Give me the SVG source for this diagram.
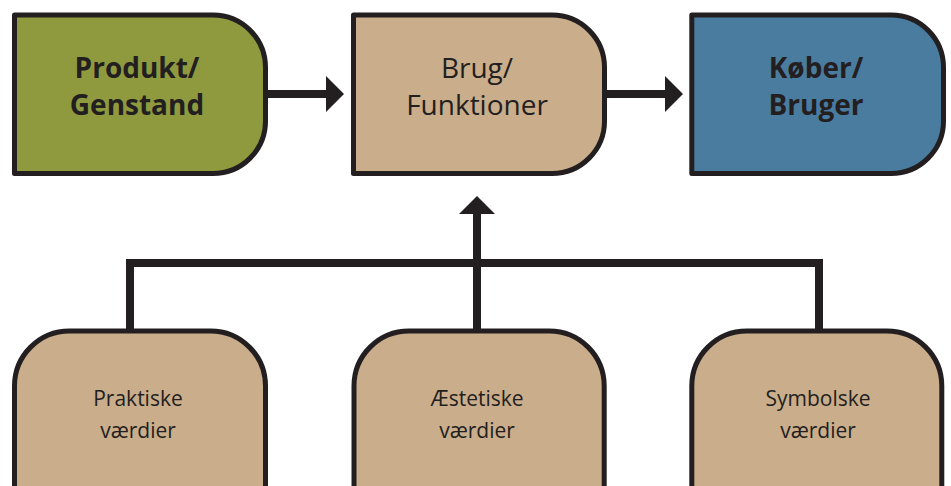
<svg xmlns="http://www.w3.org/2000/svg" width="951" height="486" viewBox="0 0 951 486">
<defs>
<style>
.box{stroke:#231f20;stroke-width:5;stroke-linejoin:round}
.green{fill:#8f9a3e}
.tan{fill:#caad8b}
.blue{fill:#4a7ca0}
.conn{stroke:#231f20;stroke-width:8;fill:none}
.head{fill:#231f20}
.tb{font-family:"Open Sans","Noto Sans",sans-serif;font-weight:bold;font-size:28px;fill:#231f20;text-anchor:middle}
.tr{font-family:"Open Sans","Noto Sans",sans-serif;font-size:28px;fill:#231f20;text-anchor:middle}
.ts{font-family:"Open Sans","Noto Sans",sans-serif;font-size:21px;fill:#231f20;text-anchor:middle}
</style>
</defs>
<rect width="951" height="486" fill="#ffffff"/>
<g id="connectors">
<line class="conn" x1="268" y1="94" x2="328" y2="94"/>
<polygon class="head" points="326,76 344,94 326,112"/>
<line class="conn" x1="607" y1="94" x2="667" y2="94"/>
<polygon class="head" points="665,76 683,94 665,112"/>
<polyline class="conn" points="130,330 130,263 819,263 819,330"/>
<line class="conn" x1="477" y1="330" x2="477" y2="212"/>
<polygon class="head" points="459,214 477,196 495,214"/>
</g>
<g id="produkt">
<path class="box green" d="M14.5,15 H213 A52.5,52.5 0 0 1 265.5,67.5 V121 A52.5,52.5 0 0 1 213,173.5 H14.5 Z"/>
<text class="tb" x="137" y="78">Produkt/</text>
<text class="tb" x="137" y="115">Genstand</text>
</g>
<g id="brug">
<path class="box tan" d="M353.5,15 H552 A52.5,52.5 0 0 1 604.5,67.5 V121 A52.5,52.5 0 0 1 552,173.5 H353.5 Z"/>
<text class="tr" x="477" y="78">Brug/</text>
<text class="tr" x="477" y="115">Funktioner</text>
</g>
<g id="koeber">
<path class="box blue" d="M691.8,15 H891 A52.5,52.5 0 0 1 943.5,67.5 V121 A52.5,52.5 0 0 1 891,173.5 H691.8 Z"/>
<text class="tb" x="816" y="78">Køber/</text>
<text class="tb" x="816" y="115">Bruger</text>
</g>
<g id="praktiske">
<path class="box tan" d="M14.5,495 V386 A55,55 0 0 1 69.5,331 H210.5 A55,55 0 0 1 265.5,386 V495"/>
<text class="ts" x="138" y="406">Praktiske</text>
<text class="ts" x="138" y="438">værdier</text>
</g>
<g id="aestetiske">
<path class="box tan" d="M354,495 V386 A55,55 0 0 1 409,331 H549.2 A55,55 0 0 1 604.2,386 V495"/>
<text class="ts" x="477" y="406">Æstetiske</text>
<text class="ts" x="477" y="438">værdier</text>
</g>
<g id="symbolske">
<path class="box tan" d="M691.8,495 V386 A55,55 0 0 1 746.8,331 H886.8 A55,55 0 0 1 941.8,386 V495"/>
<text class="ts" x="818" y="406">Symbolske</text>
<text class="ts" x="818" y="438">værdier</text>
</g>
</svg>
